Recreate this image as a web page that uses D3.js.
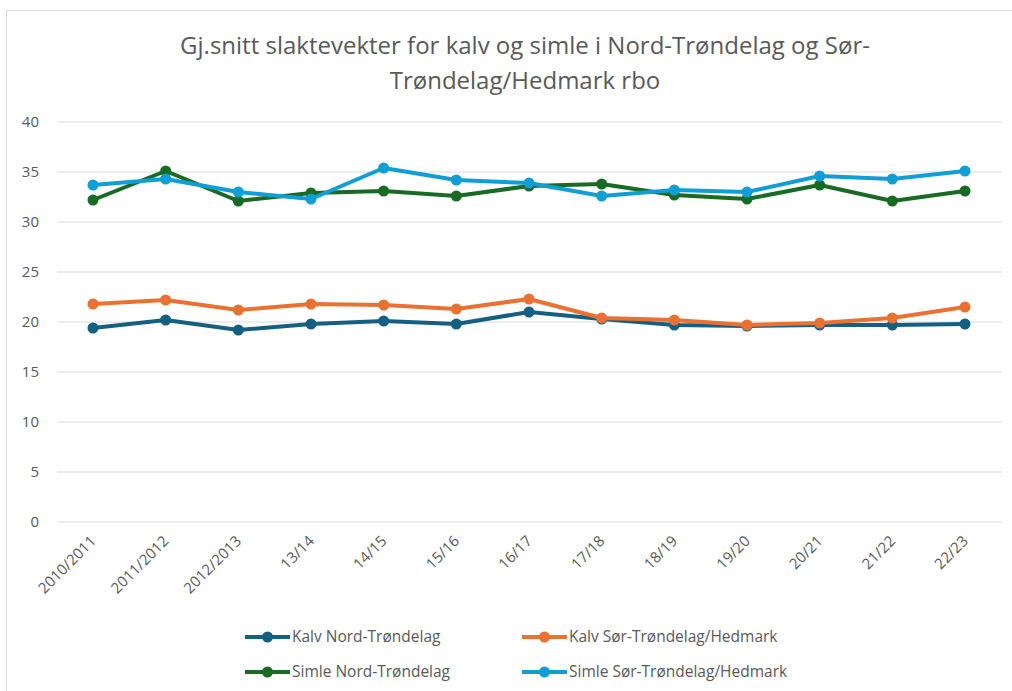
<!DOCTYPE html>
<html>
<head>
<meta charset="utf-8">
<script src="https://cdn.jsdelivr.net/npm/d3@7"></script>
<style>
  body { margin: 0; background: #fff; }
  svg { font-family: "Open Sans", "Noto Sans", sans-serif; }
</style>
</head>
<body>
<svg class="chart" width="1012" height="691"></svg>
<script>
// seasons on the x axis
var seasons = ["2010/2011", "2011/2012", "2012/2013", "13/14", "14/15", "15/16", "16/17",
               "17/18", "18/19", "19/20", "20/21", "21/22", "22/23"]

// average weights
var kalvNord  = [19.4, 20.2, 19.2, 19.8, 20.1, 19.8, 21.0, 20.3, 19.7, 19.6, 19.7, 19.7, 19.8]
var kalvSor   = [21.8, 22.2, 21.2, 21.8, 21.7, 21.3, 22.3, 20.4, 20.2, 19.7, 19.9, 20.4, 21.5]
var simleNord = [32.2, 35.1, 32.1, 32.9, 33.1, 32.6, 33.6, 33.8, 32.7, 32.3, 33.7, 32.1, 33.1]
var simleSor  = [33.7, 34.3, 33.0, 32.3, 35.4, 34.2, 33.9, 32.6, 33.2, 33.0, 34.6, 34.3, 35.1]

var seriesNames = ["Kalv Nord-Trøndelag", "Kalv Sør-Trøndelag/Hedmark",
                   "Simle Nord-Trøndelag", "Simle Sør-Trøndelag/Hedmark"]
var seriesColors = ["#156082", "#E97132", "#196B24", "#0F9ED5"]
var yTicks = [0, 5, 10, 15, 20, 25, 30, 35, 40]

var series = [kalvNord, kalvSor, simleNord, simleSor].map(function(v, i) {
  return {name: seriesNames[i], color: seriesColors[i], values: v}
})

var svg = d3.select(".chart")
var textColor = "#595959"

// chart border
svg.append("rect")
  .attr("x", 6.5).attr("y", 10.5)
  .attr("width", 1020).attr("height", 700)
  .attr("fill", "none")
  .attr("stroke", "#d9d9d9")
  .attr("stroke-width", 1)

// title
var title = svg.append("text")
  .attr("text-anchor", "middle")
  .attr("fill", textColor)
  .style("font-size", "24px")
title.append("tspan").attr("x", 525).attr("y", 54)
  .text("Gj.snitt slaktevekter for kalv og simle i Nord-Trøndelag og Sør-")
title.append("tspan").attr("x", 525).attr("y", 89)
  .text("Trøndelag/Hedmark rbo")

var x = d3.scalePoint()
  .domain(seasons)
  .range([93, 965])

var y = d3.scaleLinear()
  .domain([0, 40])
  .range([522, 122])

// gridlines
svg.append("g")
  .selectAll("line")
  .data(yTicks)
  .enter()
  .append("line")
  .attr("x1", 57).attr("x2", 1002)
  .attr("y1", d => y(d)).attr("y2", d => y(d))
  .attr("stroke", "#d9d9d9")
  .attr("stroke-width", 1)

// y labels
svg.append("g")
  .selectAll("text")
  .data(yTicks)
  .enter()
  .append("text")
  .attr("x", 39)
  .attr("y", d => y(d))
  .attr("dy", "0.35em")
  .attr("text-anchor", "end")
  .attr("fill", textColor)
  .style("font-size", "15px")
  .text(d => d)

// x labels, rotated
svg.append("g")
  .selectAll("text")
  .data(seasons)
  .enter()
  .append("text")
  .attr("transform", d => "translate(" + (x(d) + 4) + ",542) rotate(-45)")
  .attr("text-anchor", "end")
  .attr("fill", textColor)
  .style("font-size", "15px")
  .text(d => d)

var line = d3.line()
  .x((d, i) => x(seasons[i]))
  .y(d => y(d))

series.forEach(function(s) {
  var g = svg.append("g")
  g.append("path")
    .attr("d", line(s.values))
    .attr("fill", "none")
    .attr("stroke", s.color)
    .attr("stroke-width", 4)
    .attr("stroke-linejoin", "round")
  g.selectAll("circle")
    .data(s.values)
    .enter()
    .append("circle")
    .attr("cx", (d, i) => x(seasons[i]))
    .attr("cy", d => y(d))
    .attr("r", 5.5)
    .attr("fill", s.color)
})

// legend
var legendPos = [[245, 637], [522, 637], [245, 672], [522, 672]]
series.forEach(function(s, i) {
  var p = legendPos[i]
  var g = svg.append("g").attr("transform", "translate(" + p[0] + "," + p[1] + ")")
  g.append("line")
    .attr("x1", 0).attr("x2", 45)
    .attr("stroke", s.color)
    .attr("stroke-width", 4)
  g.append("circle").attr("cx", 22.5).attr("r", 5.5).attr("fill", s.color)
  g.append("text")
    .attr("x", 47)
    .attr("dy", "0.35em")
    .attr("fill", textColor)
    .style("font-size", "15.5px")
    .text(s.name)
})
</script>
</body>
</html>
